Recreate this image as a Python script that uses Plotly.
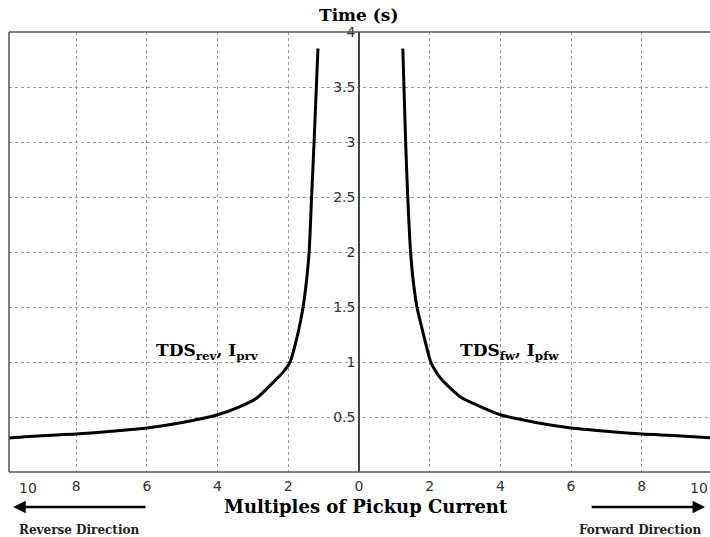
import plotly.graph_objects as go

# Forward-direction curve (multiples of pickup current, time in s)
fwd_x = [1.24, 1.32, 1.38, 1.46, 1.53, 1.64, 1.81, 2.03, 2.18, 2.34, 2.86, 3.4, 4.0, 5.0, 6.0, 7.0, 8.0, 9.0, 9.95]
fwd_y = [3.85, 3.0, 2.5, 2.0, 1.75, 1.5, 1.27, 1.0, 0.91, 0.84, 0.685, 0.6, 0.52, 0.45, 0.40, 0.37, 0.345, 0.33, 0.31]

# Reverse-direction curve (plotted on negative side)
rev_x = [-1.16, -1.27, -1.34, -1.41, -1.48, -1.58, -1.72, -1.95, -2.14, -2.38, -2.9, -3.4, -4.0, -5.0, -6.0, -7.0, -8.0, -9.0, -9.9]
rev_y = [3.85, 3.0, 2.5, 2.0, 1.75, 1.5, 1.27, 1.0, 0.91, 0.83, 0.67, 0.59, 0.52, 0.45, 0.40, 0.37, 0.345, 0.33, 0.31]

x_tickvals = [-8, -6, -4, -2, 0, 2, 4, 6, 8]
x_ticktext = ["8", "6", "4", "2", "0", "2", "4", "6", "8"]
y_tickvals = [0.5, 1, 1.5, 2, 2.5, 3, 3.5, 4]
y_ticktext = ["0.5", "1", "1.5", "2", "2.5", "3", "3.5", "4"]

x_range = [-9.9, 9.93]
y_range = [0, 4]

serif = "DejaVu Serif"
sans = "DejaVu Sans"

fig = go.Figure()
fig.add_trace(go.Scatter(x=rev_x, y=rev_y, mode="lines", line=dict(color="black", width=3, shape="spline", smoothing=0.7),
                         showlegend=False, hoverinfo="skip"))
fig.add_trace(go.Scatter(x=fwd_x, y=fwd_y, mode="lines", line=dict(color="black", width=3, shape="spline", smoothing=0.7),
                         showlegend=False, hoverinfo="skip"))

ypos = (0 - x_range[0]) / (x_range[1] - x_range[0])

fig.update_layout(
    width=710, height=537,
    margin=dict(l=9, r=0, t=32, b=65),
    paper_bgcolor="white", plot_bgcolor="white",
    xaxis=dict(range=x_range, tickvals=x_tickvals, ticktext=x_ticktext,
               showgrid=True, gridcolor="#999", griddash="dot", gridwidth=1,
               zeroline=False, showline=False, ticks="",
               tickfont=dict(family=sans, size=14, color="#333"),
               ticklabelstandoff=4),
    yaxis=dict(range=y_range, tickvals=y_tickvals, ticktext=y_ticktext,
               anchor="free", position=ypos,
               showgrid=True, gridcolor="#999", griddash="dot", gridwidth=1,
               zeroline=False, showline=True, linecolor="#444", linewidth=1.5, ticks="",
               tickfont=dict(family=sans, size=14, color="#333")),
)

# frame: left, top, bottom (right edge falls off the picture)
frame = dict(color="#555", width=1.5)
fig.add_shape(type="line", xref="paper", yref="paper", x0=0, x1=0, y0=0, y1=1, line=frame)
fig.add_shape(type="line", xref="paper", yref="paper", x0=0, x1=1, y0=1, y1=1, line=frame)
fig.add_shape(type="line", xref="paper", yref="paper", x0=0, x1=1, y0=0, y1=0, line=frame)

# edge tick labels (10)
for xp, anc in [(0.012, "left"), (1.0, "right")]:
    fig.add_annotation(x=xp, y=0, xref="paper", yref="paper", text="10", showarrow=False,
                       xanchor=anc, yanchor="top", yshift=-6,
                       font=dict(family=sans, size=14, color="#333"))

fig.add_annotation(x=ypos, y=1, xref="paper", yref="paper", text="<b>Time (s)</b>", showarrow=False,
                   xanchor="center", yanchor="bottom", yshift=5,
                   font=dict(family=serif, size=17, color="black"))
fig.add_annotation(x=ypos + 0.01, y=0, xref="paper", yref="paper", text="<b>Multiples of Pickup Current</b>",
                   showarrow=False, xanchor="center", yanchor="top", yshift=-22,
                   font=dict(family=serif, size=18, color="black"))
fig.add_annotation(x=0.012, y=0, xref="paper", yref="paper", text="<b>Reverse Direction</b>", showarrow=False,
                   xanchor="left", yanchor="top", yshift=-49,
                   font=dict(family=serif, size=12, color="#222"))
fig.add_annotation(x=0.81, y=0, xref="paper", yref="paper", text="<b>Forward Direction</b>", showarrow=False,
                   xanchor="left", yanchor="top", yshift=-49,
                   font=dict(family=serif, size=12, color="#222"))

# direction arrows
arrow_y = -0.0795
fig.add_annotation(x=0.006, y=arrow_y, ax=0.197, ay=arrow_y, xref="x domain", yref="y domain",
                   axref="x domain", ayref="y domain",
                   text="", showarrow=True, arrowhead=2, arrowsize=1, arrowwidth=2.5, arrowcolor="black")
fig.add_annotation(x=0.993, y=arrow_y, ax=0.829, ay=arrow_y, xref="x domain", yref="y domain",
                   axref="x domain", ayref="y domain",
                   text="", showarrow=True, arrowhead=2, arrowsize=1, arrowwidth=2.5, arrowcolor="black")

# curve labels
fig.add_annotation(x=-5.8, y=1.1, xref="x", yref="y", text="<b>TDS<sub>rev</sub>, I<sub>prv</sub></b>",
                   showarrow=False, xanchor="left", font=dict(family=serif, size=17, color="black"))
fig.add_annotation(x=2.8, y=1.1, xref="x", yref="y", text="<b>TDS<sub>fw</sub>, I<sub>pfw</sub></b>",
                   showarrow=False, xanchor="left", font=dict(family=serif, size=17, color="black"))

fig.write_html("out.html", config={"displayModeBar": False},
               post_script="document.body.style.margin='0';")
